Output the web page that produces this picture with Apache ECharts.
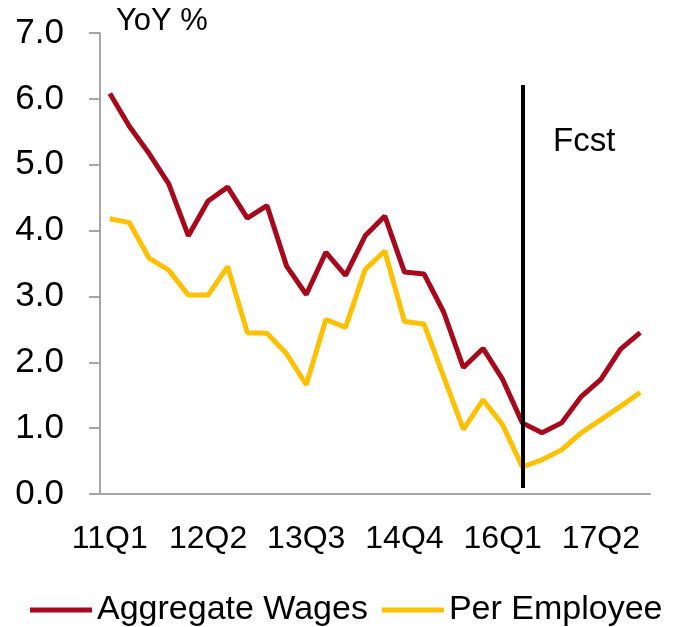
<!DOCTYPE html>
<html>
<head>
<meta charset="utf-8">
<script src="https://cdn.jsdelivr.net/npm/echarts@6/dist/echarts.min.js"></script>
<style>
  html, body { margin: 0; padding: 0; background: #fff; }
  #chart { width: 673px; height: 627px; }
</style>
</head>
<body>
<div id="chart"></div>
<script>
// quarters 11Q1 .. 17Q4
var quarters = []
for (var y = 11; y <= 17; y++) {
  for (var q = 1; q <= 4; q++) quarters.push(y + 'Q' + q)
}

var aggregateWages = [6.08, 5.58, 5.17, 4.71, 3.92, 4.45, 4.66, 4.19, 4.38, 3.46,
  3.03, 3.67, 3.32, 3.92, 4.22, 3.37, 3.34, 2.76, 1.92, 2.21,
  1.74, 1.08, 0.93, 1.08, 1.48, 1.74, 2.20, 2.45]
var perEmployee = [4.18, 4.12, 3.58, 3.40, 3.02, 3.02, 3.45, 2.45, 2.44, 2.13,
  1.66, 2.65, 2.53, 3.41, 3.69, 2.62, 2.58, 1.78, 0.98, 1.43,
  1.05, 0.41, 0.52, 0.67, 0.93, 1.13, 1.33, 1.54]

var seriesNames = ['Aggregate Wages', 'Per Employee']
var forecastStart = '16Q2'
var forecastLineSpan = [6.21, 0.09]

var axisGrey = '#a6a6a6'
var textFont = 'Liberation Sans'

var chart = echarts.init(document.getElementById('chart'))
var option = {
  animation: false,
  title: {
    text: 'YoY %',
    left: 111,
    top: 1,
    textStyle: { fontFamily: textFont, fontSize: 31, fontWeight: 'normal', color: '#000' }
  },
  legend: {
    data: seriesNames,
    left: 25,
    top: 588,
    itemWidth: 62,
    itemHeight: 5,
    itemGap: 14,
    icon: 'rect',
    textStyle: { fontFamily: textFont, fontSize: 34, color: '#000' }
  },
  grid: {
    left: 100,
    right: 23,
    top: 33,
    bottom: 133
  },
  xAxis: {
    type: 'category',
    data: quarters,
    boundaryGap: true,
    axisLine: { lineStyle: { color: axisGrey, width: 2 } },
    axisTick: { interval: 4, length: 10, lineStyle: { color: axisGrey, width: 2 } },
    axisLabel: {
      interval: 4,
      margin: 29,
      fontFamily: textFont,
      fontSize: 32,
      color: '#000'
    },
    splitLine: { show: false }
  },
  yAxis: {
    type: 'value',
    min: 0,
    max: 7,
    interval: 1,
    axisLine: { show: true, lineStyle: { color: axisGrey, width: 2 } },
    axisTick: { show: true, length: 11, lineStyle: { color: axisGrey, width: 2 } },
    axisLabel: {
      margin: 36,
      fontFamily: textFont,
      fontSize: 35,
      color: '#000',
      formatter: function (v) { return v.toFixed(1) }
    },
    splitLine: { show: false }
  },
  graphic: [{
    type: 'text',
    left: 553,
    top: 125,
    style: { text: 'Fcst', fontFamily: textFont, fontSize: 33, fill: '#000' }
  }],
  series: [
    {
      name: seriesNames[0],
      type: 'line',
      data: aggregateWages,
      symbol: 'none',
      lineStyle: { color: '#A6091C', width: 5 },
      itemStyle: { color: '#A6091C' },
      z: 3,
      markLine: {
        silent: true,
        symbol: 'none',
        label: { show: false },
        lineStyle: { color: '#000', width: 4, type: 'solid' },
        data: [[
          { coord: [forecastStart, forecastLineSpan[0]] },
          { coord: [forecastStart, forecastLineSpan[1]] }
        ]]
      }
    },
    {
      name: seriesNames[1],
      type: 'line',
      data: perEmployee,
      symbol: 'none',
      lineStyle: { color: '#FFC000', width: 5 },
      itemStyle: { color: '#FFC000' },
      z: 2
    }
  ]
}
chart.setOption(option)
</script>
</body>
</html>
